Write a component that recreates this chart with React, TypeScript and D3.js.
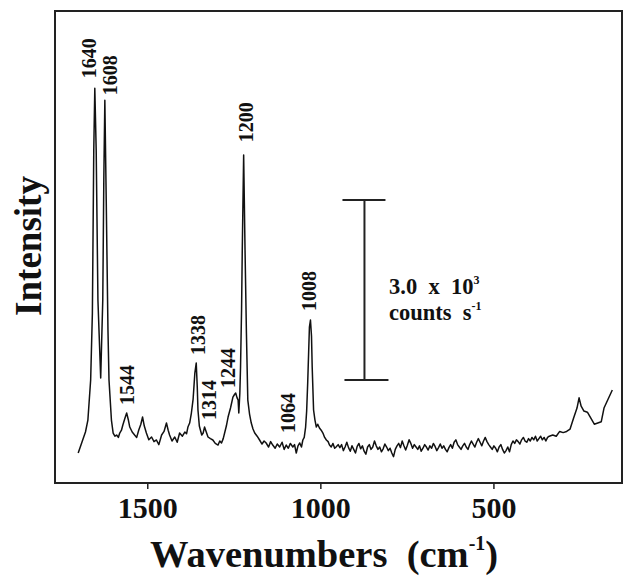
import React from 'react';
import * as d3 from 'd3';

// Spectrum: wavenumber (cm-1) and intensity (counts s-1)
const wavenumbers = [
  1701, 1695, 1688, 1680, 1673, 1665, 1660, 1656, 1653, 1649, 1644, 1636, 1630, 1627, 1624, 1620, 1615, 1612,
  1605, 1600, 1595, 1590, 1585, 1581, 1576, 1572, 1566, 1561, 1556, 1552, 1545, 1538, 1532, 1526, 1520, 1515,
  1510, 1504, 1497, 1489, 1482, 1475, 1468, 1460, 1453, 1446, 1441, 1437, 1430, 1422, 1415, 1408, 1400, 1393,
  1388, 1384, 1379, 1374, 1369, 1364, 1360, 1357, 1355, 1351, 1348, 1344, 1340, 1336, 1331, 1326, 1319, 1312,
  1305, 1297, 1292, 1287, 1282, 1278, 1273, 1268, 1261, 1254, 1249, 1246, 1242, 1239, 1237, 1234, 1232, 1229,
  1227, 1223, 1219, 1215, 1211, 1206, 1201, 1196, 1191, 1184, 1177, 1170, 1164, 1158, 1151, 1145, 1139, 1132,
  1126, 1119, 1112, 1106, 1100, 1094, 1088, 1081, 1076, 1071, 1066, 1061, 1056, 1052, 1048, 1044, 1041, 1038,
  1033, 1030, 1027, 1025, 1021, 1017, 1013, 1009, 1004, 999, 994, 989, 984, 979, 975, 970, 965, 960, 956, 950,
  945, 940, 935, 930, 925, 920, 915, 910, 905, 900, 895, 890, 885, 880, 875, 870, 865, 860, 855, 850,
  845, 840, 835, 830, 825, 820, 815, 810, 805, 800, 795, 790, 785, 780, 775, 770, 765, 760, 755, 750,
  745, 740, 735, 730, 725, 720, 715, 710, 705, 700, 695, 690, 685, 680, 675, 670, 665, 660, 655, 650,
  645, 640, 635, 630, 625, 620, 615, 610, 605, 600, 595, 590, 585, 580, 575, 570, 565, 560, 555, 550,
  545, 540, 535, 530, 525, 520, 515, 510, 505, 500, 495, 490, 485, 480, 475, 470, 465, 460, 455, 450,
  445, 440, 435, 430, 425, 420, 415, 410, 405, 400, 395, 390, 385, 380, 375, 370, 365, 360, 355, 350,
  345, 340, 330, 320, 310, 300, 290, 280, 270, 260, 254, 248, 240, 230, 220, 210, 200, 190, 182, 170, 158,
];
const intensities = [
  500, 600, 717, 850, 1050, 1717, 2833, 5550, 6583, 5550, 3050, 1750, 3050, 5050, 6383, 4717, 2550, 1717,
  1050, 833, 780, 800, 760, 833, 880, 967, 1080, 1167, 1050, 933, 850, 800, 760, 883, 980, 1100,
  950, 833, 720, 767, 690, 717, 640, 800, 860, 1000, 880, 800, 700, 767, 680, 833, 780, 850,
  820, 933, 1000, 1167, 1400, 1833, 2000, 1600, 1217, 950, 883, 800, 833, 933, 850, 767, 740, 717,
  660, 633, 700, 667, 740, 833, 950, 1100, 1250, 1433, 1480, 1500, 1420, 1383, 1167, 1500, 1933, 2900,
  3883, 5467, 3883, 2500, 1383, 1150, 1000, 900, 833, 780, 717, 650, 700, 667, 600, 690, 633, 580,
  650, 600, 680, 560, 633, 580, 660, 600, 640, 500, 620, 667, 600, 717, 760, 933, 1200, 1667,
  2600, 2717, 2450, 1933, 1217, 1050, 933, 980, 917, 880, 833, 760, 717, 690, 633, 600, 660, 580, 600, 640,
  590, 640, 540, 600, 680, 590, 530, 620, 560, 500, 610, 660, 570, 620, 530, 480, 600, 640, 560, 600,
  700, 620, 560, 600, 520, 570, 650, 600, 540, 580, 500, 440, 560, 620, 660, 590, 700, 620, 550, 630,
  720, 660, 580, 640, 600, 560, 620, 530, 580, 640, 600, 550, 620, 580, 660, 610, 540, 590, 650, 580,
  620, 560, 520, 590, 640, 580, 680, 720, 640, 600, 560, 620, 660, 600, 560, 640, 700, 650, 600, 680,
  740, 680, 620, 700, 760, 690, 640, 600, 560, 620, 580, 520, 600, 640, 560, 500, 540, 600, 520, 640,
  700, 660, 720, 690, 650, 720, 760, 700, 680, 740, 700, 760, 720, 780, 700, 740, 780, 720, 760, 700,
  760, 780, 800, 780, 860, 840, 860, 900, 1080, 1250, 1420, 1280, 1200, 1180, 1080, 980, 1000, 1020, 1250, 1400, 1550,
];

const xTicks = [1500, 1000, 500];

// Peak annotations: text, wavenumber of the label's baseline, intensity at its lower end
const peakLabelText = ['1640', '1608', '1544', '1338', '1314', '1244', '1200', '1064', '1008'];
const peakLabelPos = [1650, 1589, 1540, 1336, 1304, 1249, 1197, 1076, 1015];
const peakLabelLevel = [6750, 6467, 1300, 2133, 1050, 1583, 5683, 833, 2867];

// Scale bar: 3.0 x 10^3 counts s^-1
const scaleBarPos = 874;
const scaleBarFrom = 1717;
const scaleBarTo = 4717;

const W = 623;
const H = 583;
const left = 55;
const right = 622;
const top = 11;
const bottom = 483;
const FONT = '"Liberation Serif", "Times New Roman", serif';

export default function App() {
  const x = d3.scaleLinear().domain([1768, 130]).range([left, right]);
  const y = d3.scaleLinear().domain([0, 7870]).range([bottom, top]);
  const pts: [number, number][] = wavenumbers.map((w, i) => [w, intensities[i]]);
  const line = d3
    .line<[number, number]>()
    .x((d) => x(d[0]))
    .y((d) => y(d[1]));

  const sbx = x(scaleBarPos);
  const sbTop = y(scaleBarTo);
  const sbBot = y(scaleBarFrom);

  return (
    <svg
      width={W}
      height={H}
      viewBox={`0 0 ${W} ${H}`}
      style={{ position: 'absolute', left: 0, top: 0, background: '#fff' }}
      fontFamily={FONT}
      fontWeight="bold"
    >
      <rect x={0} y={0} width={W} height={H} fill="#fff" />
      {/* frame */}
      <rect x={left} y={top} width={right - left} height={bottom - top} fill="none" stroke="#222" strokeWidth={2} />
      {/* ticks */}
      {xTicks.map((t) => (
        <g key={t}>
          <line x1={x(t)} x2={x(t)} y1={bottom} y2={bottom + 6} stroke="#222" strokeWidth={1.5} />
          <text x={x(t)} y={518} textAnchor="middle" fontSize={30} fill="#111">
            {t}
          </text>
        </g>
      ))}
      {/* spectrum */}
      <path d={line(pts) || ''} fill="none" stroke="#111" strokeWidth={1.5} strokeLinejoin="round" />
      {/* peak labels */}
      {peakLabelText.map((t, i) => (
        <text
          key={t}
          transform={`translate(${x(peakLabelPos[i])},${y(peakLabelLevel[i])}) rotate(-90)`}
          textAnchor="start"
          fontSize={20}
          fill="#111"
        >
          {t}
        </text>
      ))}
      {/* scale bar */}
      <line x1={sbx} x2={sbx} y1={sbTop} y2={sbBot} stroke="#222" strokeWidth={2} />
      <line x1={sbx - 22} x2={sbx + 21} y1={sbTop} y2={sbTop} stroke="#222" strokeWidth={2} />
      <line x1={sbx - 20} x2={sbx + 24} y1={sbBot} y2={sbBot} stroke="#222" strokeWidth={2} />
      <text x={389} y={294} fontSize={22.5} fill="#111" style={{ whiteSpace: 'pre' }}>
        <tspan>{'3.0  x  10'}</tspan>
        <tspan fontSize={12} dy={-10}>3</tspan>
      </text>
      <text x={389} y={320} fontSize={22.5} fill="#111" style={{ whiteSpace: 'pre' }}>
        <tspan>{'counts  s'}</tspan>
        <tspan fontSize={12} dy={-10}>-1</tspan>
      </text>
      {/* axis titles */}
      <text x={150} y={567} fontSize={38.5} fill="#111" style={{ whiteSpace: 'pre' }}>
        {'Wavenumbers  (cm'}
        <tspan fontSize={20} dy={-17}>-1</tspan>
        <tspan dy={17}>)</tspan>
      </text>
      <text transform={`translate(41,246) rotate(-90)`} textAnchor="middle" fontSize={37} fill="#111">
        Intensity
      </text>
    </svg>
  );
}
